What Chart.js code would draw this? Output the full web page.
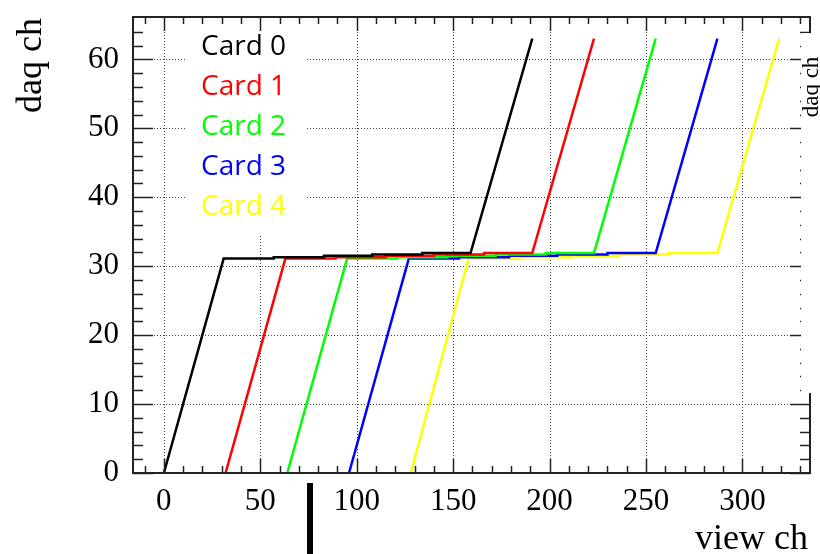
<!DOCTYPE html>
<html><head><meta charset="utf-8">
<script src="https://cdn.jsdelivr.net/npm/chart.js@4.4.1/dist/chart.umd.min.js"></script>
<style>html,body{margin:0;padding:0;background:#fff}</style>
</head><body>
<canvas id="c" width="820" height="554"></canvas>
<script>
// ---- data ----
const seriesLabels = ['Card 0', 'Card 1', 'Card 2', 'Card 3', 'Card 4'];
const seriesColors = ['#000000', '#ff0000', '#00ff00', '#0000ff', '#ffff00'];

const viewCh0 = [0, 31, 57, 57, 83, 83, 108, 108, 134, 134, 159, 191];
const daqCh0  = [0, 31.1, 31.1, 31.3, 31.3, 31.5, 31.5, 31.7, 31.7, 31.9, 31.9, 63];
const viewCh1 = [32, 63, 89, 89, 115, 115, 140, 140, 166, 166, 191, 223];
const daqCh1  = [0, 31.1, 31.1, 31.3, 31.3, 31.5, 31.5, 31.7, 31.7, 31.9, 31.9, 63];
const viewCh2 = [64, 95, 121, 121, 147, 147, 172, 172, 198, 198, 223, 255];
const daqCh2  = [0, 31.1, 31.1, 31.3, 31.3, 31.5, 31.5, 31.7, 31.7, 31.9, 31.9, 63];
const viewCh3 = [96, 127, 153, 153, 179, 179, 204, 204, 230, 230, 255, 287];
const daqCh3  = [0, 31.1, 31.1, 31.3, 31.3, 31.5, 31.5, 31.7, 31.7, 31.9, 31.9, 63];
const viewCh4 = [128, 158, 185, 185, 211, 211, 236, 236, 262, 262, 287, 319];
const daqCh4  = [0, 31.1, 31.1, 31.3, 31.3, 31.5, 31.5, 31.7, 31.7, 31.9, 31.9, 63];

const xTickValues = [0, 50, 100, 150, 200, 250, 300];
const xTickLabels = ['0', '50', '100', '150', '200', '250', '300'];
const yTickValues = [0, 10, 20, 30, 40, 50, 60];
const yTickLabels = ['0', '10', '20', '30', '40', '50', '60'];
const xMinorTicks = [-10, 10, 20, 30, 40, 60, 70, 80, 90, 110, 120, 130, 140, 160, 170, 180, 190,
                     210, 220, 230, 240, 260, 270, 280, 290, 310, 320, 330];
const yMinorTicks = [2, 4, 6, 8, 12, 14, 16, 18, 22, 24, 26, 28, 32, 34, 36, 38, 42, 44, 46, 48,
                     52, 54, 56, 58, 62, 64];
const xTitle = 'view ch';
const yTitle = 'daq ch';
const xRange = [-16, 335];
const yRange = [0, 66.15];
const markerViewCh = 75.6; // stray black bar seen under the axis

const viewChs = [viewCh0, viewCh1, viewCh2, viewCh3, viewCh4];
const daqChs = [daqCh0, daqCh1, daqCh2, daqCh3, daqCh4];

const serif = '"Liberation Serif", "Times New Roman", serif';
const sans = '"Open Sans", "Noto Sans", sans-serif';

const rootPlugin = {
  id: 'rootStyle',
  beforeDatasetsDraw(chart) {
    const { ctx, chartArea: a, scales: { x, y } } = chart;
    ctx.save();
    ctx.strokeStyle = '#444';
    ctx.lineWidth = 1;
    ctx.setLineDash([1, 2]);
    xTickValues.forEach(v => {
      const px = Math.round(x.getPixelForValue(v)) + 0.5;
      ctx.beginPath(); ctx.moveTo(px, a.top); ctx.lineTo(px, a.bottom); ctx.stroke();
    });
    yTickValues.forEach(v => {
      if (v === yRange[0]) return;
      const py = Math.round(y.getPixelForValue(v)) + 0.5;
      ctx.beginPath(); ctx.moveTo(a.left, py); ctx.lineTo(a.right, py); ctx.stroke();
    });
    ctx.setLineDash([]);
    // legend box (white, covers grid)
    ctx.fillStyle = '#fff';
    ctx.fillRect(a.left + 52, a.top + 1, 122, 217);
    ctx.font = '28px ' + sans;
    ctx.textAlign = 'left';
    ctx.textBaseline = 'alphabetic';
    chart.data.datasets.forEach((ds, i) => {
      ctx.fillStyle = ds.borderColor;
      ctx.fillText(ds.label, a.left + 68, a.top + 38 + 40 * i);
    });
    ctx.restore();
  },
  afterDraw(chart) {
    const { ctx, chartArea: a, scales: { x, y } } = chart;
    ctx.save();
    ctx.strokeStyle = '#222';
    ctx.lineWidth = 1.5;
    const majX = 14, minX = 7, majY = 20, minY = 10;
    const tickX = (v, len) => {
      const px = Math.round(x.getPixelForValue(v)) + 0.5;
      ctx.beginPath();
      ctx.moveTo(px, a.bottom); ctx.lineTo(px, a.bottom - len);
      ctx.moveTo(px, a.top); ctx.lineTo(px, a.top + len);
      ctx.stroke();
    };
    const tickY = (v, len) => {
      const py = Math.round(y.getPixelForValue(v)) + 0.5;
      ctx.beginPath();
      ctx.moveTo(a.left, py); ctx.lineTo(a.left + len, py);
      ctx.moveTo(a.right, py); ctx.lineTo(a.right - len, py);
      ctx.stroke();
    };
    xTickValues.forEach(v => tickX(v, majX));
    xMinorTicks.forEach(v => tickX(v, minX));
    yTickValues.forEach(v => tickY(v, majY));
    yMinorTicks.forEach(v => tickY(v, minY));
    // frame
    ctx.lineWidth = 2;
    ctx.strokeRect(a.left, a.top, a.right - a.left, a.bottom - a.top);
    // white patch over right axis where the reference shows a secondary label
    ctx.fillStyle = '#fff';
    const pTop = y.getPixelForValue(63.8), pBot = y.getPixelForValue(11.6);
    ctx.fillRect(a.right - 9, pTop, 20, pBot - pTop);
    ctx.fillStyle = '#000';
    ctx.font = '23px ' + serif;
    ctx.save();
    ctx.translate(a.right + 8, y.getPixelForValue(51.6));
    ctx.rotate(-Math.PI / 2);
    ctx.textAlign = 'left';
    ctx.fillText(yTitle, 0, 0);
    ctx.restore();
    // axis titles
    ctx.font = '36px ' + serif;
    ctx.save();
    ctx.translate(41, a.top + 1);
    ctx.rotate(-Math.PI / 2);
    ctx.textAlign = 'right';
    ctx.fillText(yTitle, 0, 0);
    ctx.restore();
    ctx.textAlign = 'right';
    ctx.fillText(xTitle, a.right - 2, chart.height - 5);
    // stray marker bar
    const mx = x.getPixelForValue(markerViewCh);
    ctx.fillRect(Math.round(mx) - 3, a.bottom + 10, 6, chart.height - a.bottom - 10);
    ctx.restore();
  }
};

new Chart(document.getElementById('c'), {
  type: 'line',
  data: {
    datasets: seriesLabels.map((l, i) => ({
      label: l,
      data: viewChs[i].map((v, j) => ({ x: v, y: daqChs[i][j] })),
      borderColor: seriesColors[i],
      backgroundColor: seriesColors[i],
      borderWidth: 2.5,
      pointRadius: 0,
      fill: false,
      tension: 0
    }))
  },
  options: {
    responsive: false,
    animation: false,
    devicePixelRatio: 1,
    layout: { padding: { left: 0, top: 17, right: 10, bottom: 0 } },
    plugins: { legend: { display: false }, tooltip: { enabled: false } },
    scales: {
      x: {
        type: 'linear', min: xRange[0], max: xRange[1],
        grid: { display: false }, border: { display: false },
        afterBuildTicks: s => { s.ticks = xTickValues.map(v => ({ value: v })); },
        afterFit: s => { s.height = 81; s.paddingLeft = 0; s.paddingRight = 0; },
        ticks: {
          autoSkip: false, maxRotation: 0, padding: 2, color: '#000',
          font: { family: serif, size: 31 },
          callback: (v, i) => xTickLabels[i]
        }
      },
      y: {
        type: 'linear', min: yRange[0], max: yRange[1],
        grid: { display: false }, border: { display: false },
        afterBuildTicks: s => { s.ticks = yTickValues.map(v => ({ value: v })); },
        afterFit: s => { s.width = 133; s.paddingTop = 0; s.paddingBottom = 0; },
        ticks: {
          autoSkip: false, padding: 6, color: '#000',
          font: { family: serif, size: 31 },
          callback: (v, i) => yTickLabels[i]
        }
      }
    }
  },
  plugins: [rootPlugin]
});
</script>
</body></html>
